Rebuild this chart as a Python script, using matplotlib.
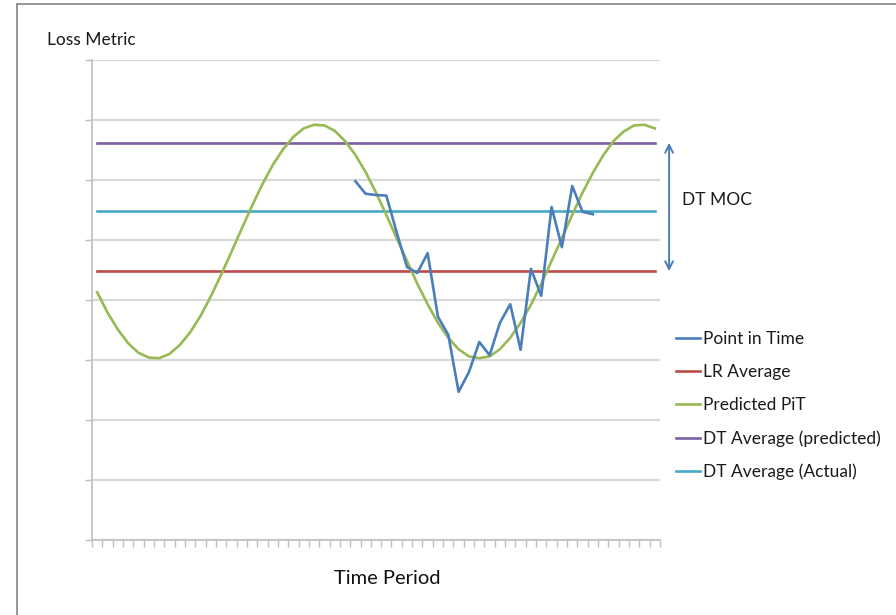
import numpy as np
import matplotlib
matplotlib.use("Agg")
import matplotlib.pyplot as plt
from matplotlib.lines import Line2D

plt.rcParams["font.family"] = ["Lato", "DejaVu Sans"]

# time periods (55 categories, unlabeled)
periods = np.arange(55)

predicted_pit = [
    41.3, 37.9, 35.1, 32.8, 31.2, 30.4, 30.3, 31.0, 32.5, 34.6,
    37.3, 40.6, 44.2, 48.0, 51.9, 55.7, 59.3, 62.5, 65.1, 67.2,
    68.6, 69.2, 69.1, 68.2, 66.5, 64.2, 61.3, 57.9, 54.2, 50.3,
    46.5, 42.7, 39.3, 36.2, 33.7, 31.8, 30.6, 30.3, 30.6, 31.8,
    33.7, 36.2, 39.2, 42.7, 46.5, 50.3, 54.2, 57.9, 61.2, 64.1,
    66.5, 68.1, 69.1, 69.2, 68.6,
]

point_start = 25
point_in_time = [
    59.8, 57.7, 57.5, 57.4, 51.3, 45.5, 44.5, 47.8, 37.2, 34.2,
    24.7, 28.0, 33.0, 30.8, 36.2, 39.3, 31.7, 45.2, 40.7, 55.5,
    48.8, 59.0, 54.7, 54.3,
]

lr_average = 44.8
dt_average_predicted = 66.2
dt_average_actual = 54.8

BLUE = "#4a7ebb"
RED = "#be4b48"
GREEN = "#98b954"
PURPLE = "#7d60a0"
CYAN = "#46aac5"
GRID = "#d9d9d9"
AXIS = "#bfbfbf"

fig = plt.figure(figsize=(8.96, 6.15), dpi=100)
ax = fig.add_axes([92 / 896, 1 - 540 / 615, 568 / 896, 480 / 615])

pit_x = periods[point_start:point_start + len(point_in_time)]
lw = 1.9
ax.plot(pit_x, point_in_time, color=BLUE, lw=lw, label="Point in Time", zorder=5)
ax.plot(periods, [lr_average] * len(periods), color=RED, lw=lw, label="LR Average", zorder=3)
ax.plot(periods, predicted_pit, color=GREEN, lw=lw, label="Predicted PiT", zorder=4)
ax.plot(periods, [dt_average_predicted] * len(periods), color=PURPLE, lw=lw,
        label="DT Average (predicted)", zorder=3)
ax.plot(periods, [dt_average_actual] * len(periods), color=CYAN, lw=lw,
        label="DT Average (Actual)", zorder=3)

ax.set_xlim(-0.5, len(periods) - 0.5)
ax.set_ylim(0, 80)
ax.set_yticks(np.arange(0, 81, 10))
ax.set_xticks(np.arange(-0.5, len(periods), 1))
ax.set_xticklabels([])
ax.set_yticklabels([])
ax.yaxis.grid(True, color=GRID, lw=1.6)
ax.set_axisbelow(True)
for side in ("top", "right"):
    ax.spines[side].set_visible(False)
for side in ("left", "bottom"):
    ax.spines[side].set_color(AXIS)
    ax.spines[side].set_linewidth(1.2)
ax.tick_params(axis="both", direction="out", length=5, width=1.0, color=AXIS)

# DT MOC double arrow outside the plot area
trans = ax.get_yaxis_transform()
ax.annotate("", xy=(1.016, dt_average_predicted), xytext=(1.016, lr_average),
            xycoords=trans, textcoords=trans, annotation_clip=False,
            arrowprops=dict(arrowstyle="<->", color=BLUE, lw=1.4,
                            shrinkA=0, shrinkB=0, mutation_scale=14))
fig.text(682 / 896, 1 - 200 / 615, "DT MOC", fontsize=12.5, color="#1a1a1a",
         va="center", ha="left")

fig.text(47 / 896, 1 - 40 / 615, "Loss Metric", fontsize=12.5, color="#1a1a1a",
         va="center", ha="left")
fig.text(387 / 896, 1 - 578 / 615, "Time Period", fontsize=14.5, color="#111111",
         va="center", ha="center")

leg = fig.legend(loc="upper left", bbox_to_anchor=(676 / 896, 1 - 331 / 615),
                 frameon=False, fontsize=12.5, handlelength=1.4, handletextpad=0.15,
                 labelspacing=0.98, borderpad=0, borderaxespad=0)
for t in leg.get_texts():
    t.set_color("#1a1a1a")

# outer border (top and left edges of the frame)
fig.add_artist(Line2D([16.5 / 896, 1], [1 - 4 / 615, 1 - 4 / 615],
                      transform=fig.transFigure, color="#8c8c8c", lw=1.3))
fig.add_artist(Line2D([16.5 / 896, 16.5 / 896], [0, 1 - 4 / 615],
                      transform=fig.transFigure, color="#8c8c8c", lw=1.3))

fig.savefig("out.png", dpi=100)
